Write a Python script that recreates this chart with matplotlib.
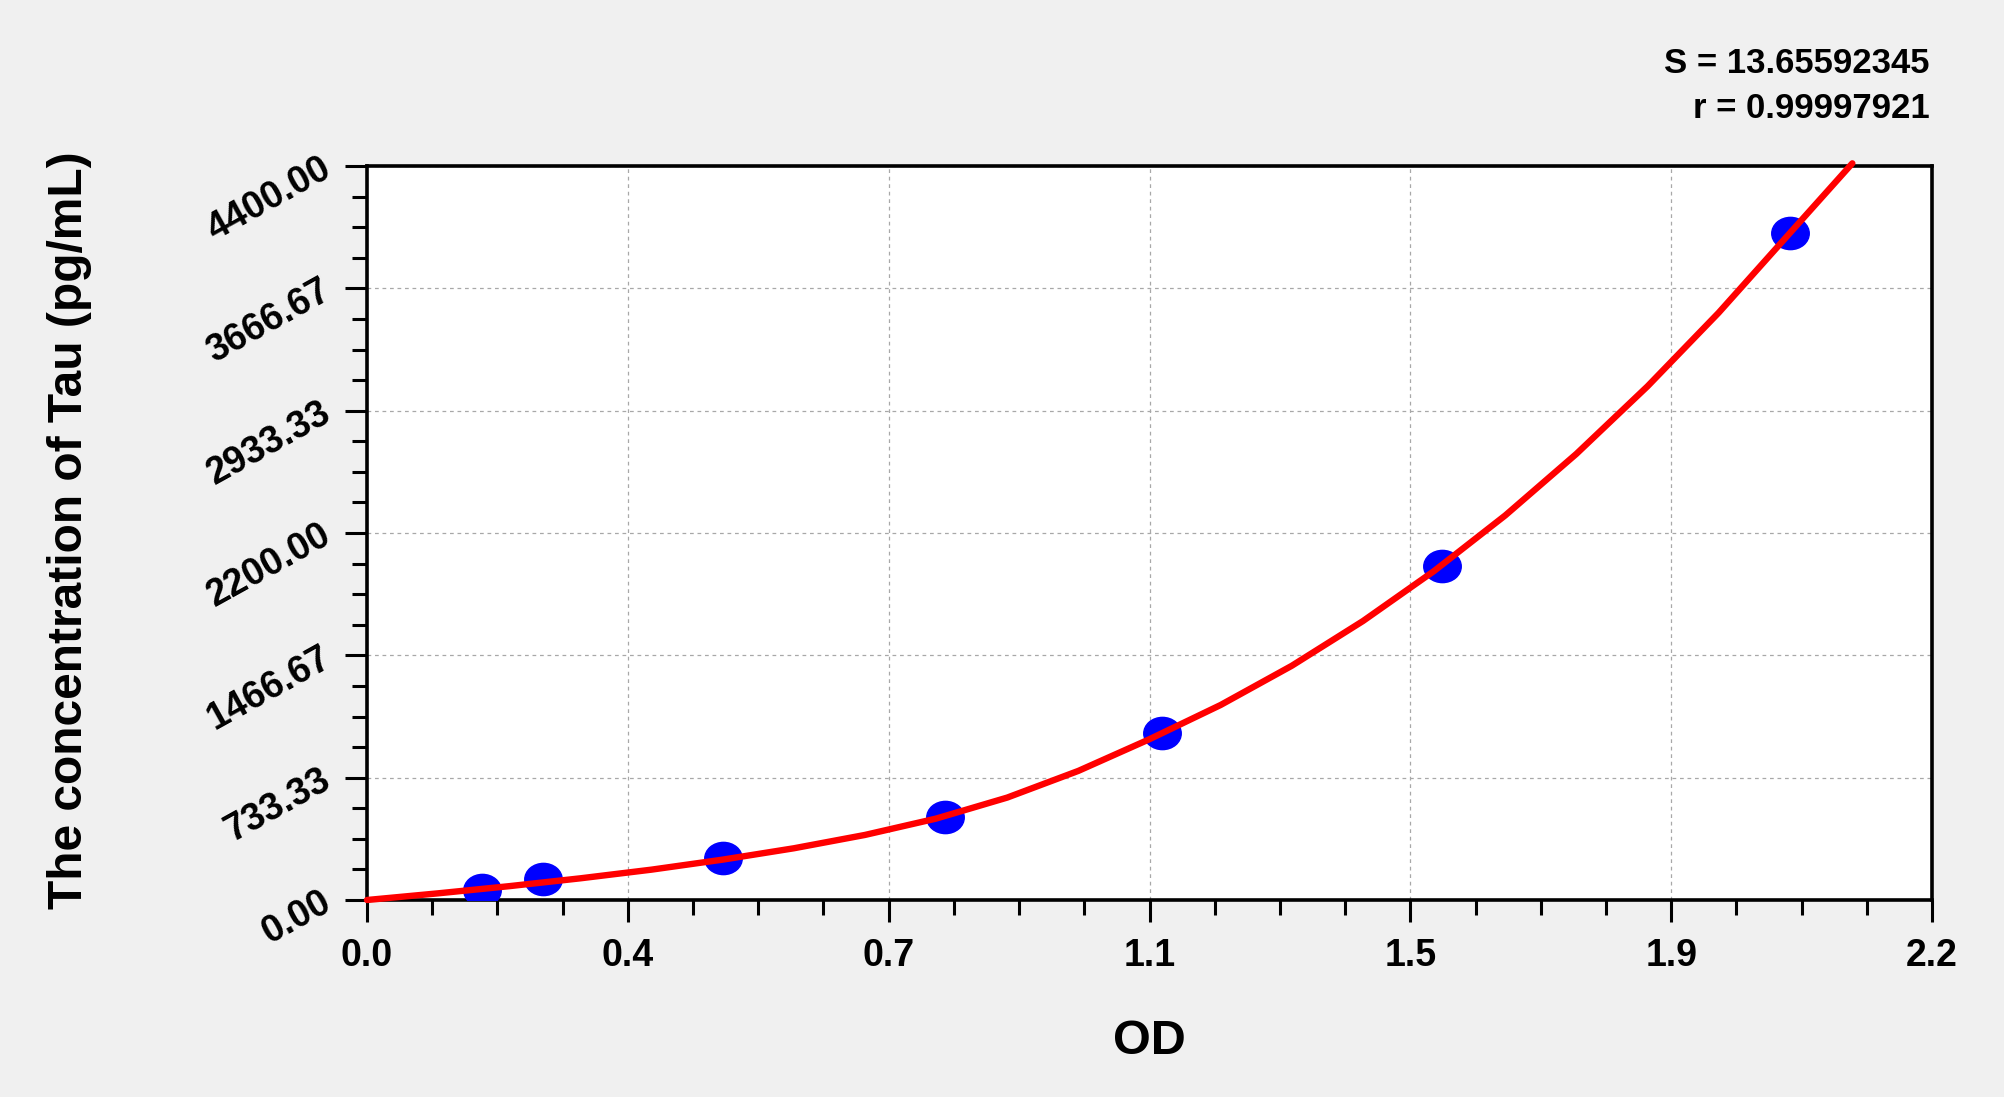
import matplotlib
matplotlib.use("Agg")
import matplotlib.pyplot as plt
from matplotlib.path import Path
from matplotlib.transforms import Affine2D
from matplotlib.ticker import AutoMinorLocator, FixedLocator

plt.rcParams['font.family'] = ['Liberation Sans', 'DejaVu Sans']
plt.rcParams['font.weight'] = 'bold'

# Standard points (OD, concentration pg/mL)
std_od = [0.162, 0.247, 0.500, 0.812, 1.118, 1.511, 2.000]
std_conc = [62.5, 125, 250, 500, 1000, 2000, 4000]

# Fitted curve
curve_od = [0.0, 0.1, 0.2, 0.3, 0.4, 0.5, 0.6, 0.7, 0.8, 0.9, 1.0,
            1.1, 1.2, 1.3, 1.4, 1.5, 1.6, 1.7, 1.8, 1.9, 2.0, 2.088]
curve_conc = [0, 40, 83, 130, 182, 242, 310, 390, 488, 614, 774,
              964, 1169, 1404, 1672, 1972, 2305, 2674, 3079, 3520, 3997, 4416]

x_tick_vals = [0.0, 2.2 / 6, 4.4 / 6, 1.1, 8.8 / 6, 11.0 / 6, 2.2]
x_tick_labels = ['0.0', '0.4', '0.7', '1.1', '1.5', '1.9', '2.2']
y_tick_vals = [0, 4400 / 6, 8800 / 6, 2200, 17600 / 6, 22000 / 6, 4400]
y_tick_labels = ['0.00', '733.33', '1466.67', '2200.00', '2933.33', '3666.67', '4400.00']

stat_lines = ['S = 13.65592345', 'r = 0.99997921']
x_title = 'OD'
y_title = 'The concentration of Tau (pg/mL)'

W, H = 2004, 1097
fig = plt.figure(figsize=(W / 100, H / 100), dpi=100, facecolor='#F0F0F0')
ax = fig.add_axes([367 / W, 1 - 900 / H, (1932 - 367) / W, (900 - 166) / H])
ax.set_facecolor('white')

ax.set_xlim(0, 2.2)
ax.set_ylim(0, 4400)

ax.xaxis.set_major_locator(FixedLocator(x_tick_vals))
ax.set_xticklabels(x_tick_labels)
ax.yaxis.set_major_locator(FixedLocator(y_tick_vals))
ax.set_yticklabels(y_tick_labels)
ax.xaxis.set_minor_locator(AutoMinorLocator(4))
ax.yaxis.set_minor_locator(AutoMinorLocator(4))

ax.tick_params(axis='both', which='major', direction='out', length=16, width=2.2,
               labelsize=27, color='black')
ax.tick_params(axis='both', which='minor', direction='out', length=10.5, width=2.2,
               color='black')
ax.tick_params(axis='x', which='major', pad=11)
ax.tick_params(axis='y', which='major', pad=12)

for lab in ax.get_yticklabels():
    lab.set_rotation(29)
    lab.set_rotation_mode('anchor')
    lab.set_ha('right')
    lab.set_va('center')
    lab.set_fontweight('bold')
for lab in ax.get_xticklabels():
    lab.set_fontweight('bold')

for sp in ax.spines.values():
    sp.set_linewidth(2.6)
    sp.set_color('black')

ax.grid(True, which='major', color='#A8A8A8', linestyle=(0, (3, 3)), linewidth=0.9)
ax.set_axisbelow(True)

ellipse = Path.unit_circle().transformed(Affine2D().scale(1.0, 0.86))
ax.plot(std_od, std_conc, linestyle='none', marker=ellipse, markersize=27,
        markerfacecolor='#0000FF', markeredgecolor='#0000FF', zorder=3)
ax.plot(curve_od, curve_conc, color='#FF0000', linewidth=4.6, zorder=4,
        clip_on=False, solid_capstyle='round', solid_joinstyle='round')

fig.text(1930 / W, 1 - 73 / H, stat_lines[0], ha='right', va='baseline',
         fontsize=25, fontweight='bold')
fig.text(1930 / W, 1 - 118 / H, stat_lines[1], ha='right', va='baseline',
         fontsize=25, fontweight='bold')

fig.text(1149 / W, 1 - 1042 / H, x_title, ha='center', va='center',
         fontsize=35, fontweight='bold')
fig.text(70 / W, 1 - 530 / H, y_title, ha='center', va='center', rotation=90,
         fontsize=34.5, fontweight='bold')

fig.savefig('out.png', dpi=100, facecolor=fig.get_facecolor())
